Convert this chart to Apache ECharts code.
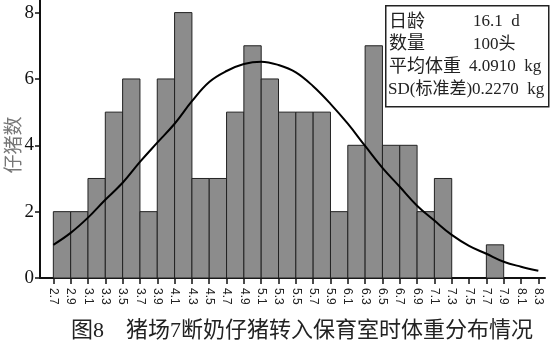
<!DOCTYPE html>
<html><head><meta charset="utf-8">
<script src="https://cdn.jsdelivr.net/npm/echarts@6/dist/echarts.min.js"></script>
<style>html,body{margin:0;padding:0;background:#fff}#c{width:550px;height:349px}</style>
</head><body><div id="c"></div>
<script>
const tickLabels = ['2.7','2.9','3.1','3.3','3.5','3.7','3.9','4.1','4.3','4.5','4.7','4.9','5.1','5.3','5.5','5.7','5.9','6.1','6.3','6.5','6.7','6.9','7.1','7.3','7.5','7.7','7.9','8.1','8.3'];
const binCounts = [2,2,3,5,6,2,6,8,3,3,5,7,6,5,5,5,2,4,7,4,4,2,3,0,0,1,0,0];
const curveY = [1.00,1.36,1.82,2.36,2.87,3.50,4.08,4.65,5.33,5.91,6.24,6.45,6.52,6.42,6.20,5.78,5.25,4.65,3.98,3.32,2.75,2.18,1.73,1.30,0.97,0.73,0.49,0.34,0.22];
const yTicks = [0,2,4,6,8];
const yAxisName = '仔猪数';
const infoLabels = ['日龄','数量','平均体重','SD(标准差)'];
const infoValues = ['16.1  d','100头','4.0910  kg','0.2270  kg'];
const chartTitle = '图8    猪场7断奶仔猪转入保育室时体重分布情况';

const tickValues = tickLabels.map(Number);
const barData = binCounts.map((c, i) => [tickValues[i], tickValues[i + 1], c]);
const lineData = tickValues.map((x, i) => [x, curveY[i]]);
const mixFont = '"Liberation Serif", "Noto Sans CJK SC", serif';

const chart = echarts.init(document.getElementById('c'), null, {renderer: 'canvas'});
const infoRowsY = [22, 44.5, 67, 90];
const graphics = [
  {type: 'rect', left: 385, top: 5, shape: {x: 0, y: 0, width: 163, height: 101},
   style: {fill: '#fff', stroke: '#222', lineWidth: 1.5}, z: 100},
  {type: 'text', x: 302, y: 331, z: 100,
   style: {text: chartTitle, font: '22px ' + mixFont, fill: '#222', textAlign: 'center', textVerticalAlign: 'middle'}}
];
infoLabels.forEach((t, i) => {
  if (i === 3) {
    graphics.push({type: 'text', x: 388, y: infoRowsY[i], z: 101,
      style: {text: t + infoValues[i], font: '17px ' + mixFont, fill: '#222', textVerticalAlign: 'middle'}});
    return;
  }
  graphics.push({type: 'text', x: 389, y: infoRowsY[i], z: 101,
    style: {text: t, font: '18px ' + mixFont, fill: '#222', textVerticalAlign: 'middle'}});
  graphics.push({type: 'text', x: i === 2 ? 469 : 473, y: infoRowsY[i], z: 101,
    style: {text: infoValues[i], font: '17px ' + mixFont, fill: '#222', textVerticalAlign: 'middle'}});
});

chart.setOption({
  animation: false,
  backgroundColor: '#fff',
  grid: {left: 40, right: 5, top: 0, bottom: 71, containLabel: false, outerBoundsMode: 'none'},
  xAxis: {
    type: 'value', min: 2.546, max: 8.377,
    axisLine: {show: true, onZero: false, lineStyle: {color: '#111', width: 2}},
    axisTick: {show: true, customValues: tickValues, length: 6, lineStyle: {color: '#111', width: 1.5}},
    axisLabel: {show: true, customValues: tickValues, rotate: -90, margin: 10,
      formatter: v => v.toFixed(1), fontSize: 12, color: '#222', fontFamily: '"Liberation Sans", sans-serif'},
    splitLine: {show: false}
  },
  yAxis: {
    type: 'value', min: 0, max: 8.38,
    name: yAxisName, nameLocation: 'middle', nameGap: 18, nameRotate: 90, nameMoveOverlap: false,
    nameTextStyle: {fontSize: 19, color: '#777', fontFamily: '"Noto Sans CJK SC", sans-serif', padding: [0, 12, 0, 0]},
    axisLine: {show: true, lineStyle: {color: '#111', width: 2}},
    axisTick: {show: true, customValues: yTicks, length: 5, lineStyle: {color: '#111', width: 1.5}},
    axisLabel: {show: true, customValues: yTicks, margin: 6, fontSize: 19, color: '#111', fontFamily: '"Liberation Serif", serif'},
    splitLine: {show: false}
  },
  series: [
    {
      type: 'custom', data: barData, encode: {x: [0, 1], y: 2}, z: 2,
      renderItem: (params, api) => {
        const x0 = api.value(0), x1 = api.value(1), c = api.value(2);
        if (!c) return;
        const p0 = api.coord([x0, c]);
        const p1 = api.coord([x1, 0]);
        return {type: 'rect', shape: {x: p0[0], y: p0[1], width: p1[0] - p0[0], height: p1[1] - p0[1]},
          style: {fill: '#8c8c8c', stroke: '#222', lineWidth: 1}};
      }
    },
    {
      type: 'line', data: lineData, smooth: 0.4, symbol: 'none', z: 5,
      lineStyle: {color: '#000', width: 2}
    }
  ],
  graphic: graphics
});
</script></body></html>
